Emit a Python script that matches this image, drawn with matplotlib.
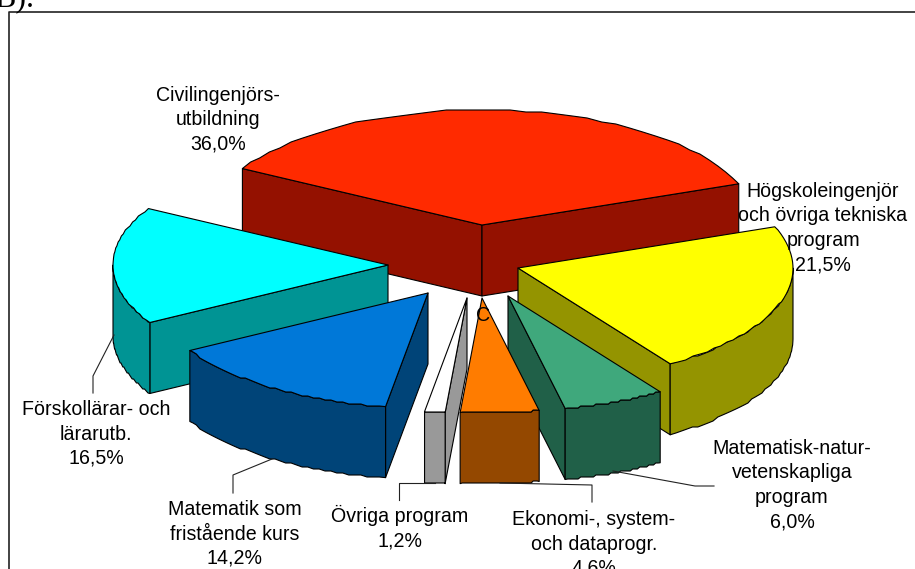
import numpy as np
import matplotlib
matplotlib.use("Agg")
import matplotlib.pyplot as plt
from matplotlib.patches import Polygon

plt.rcParams["font.family"] = ["Liberation Sans", "DejaVu Sans"]

program_names = ["Civilingenjörs-\nutbildning", "Högskoleingenjör\noch övriga tekniska\nprogram",
                 "Matematisk-natur-\nvetenskapliga\nprogram", "Ekonomi-, system-\noch dataprogr.",
                 "Övriga program", "Matematik som\nfristående kurs", "Förskollärar- och\nlärarutb."]
shares = [36.0, 21.5, 6.0, 4.6, 1.2, 14.2, 16.5]

top_colors = ["#ff2a00", "#ffff00", "#3fa87c", "#ff7c00", "#ffffff", "#0078d8", "#00ffff"]
side_colors = ["#941100", "#949400", "#206048", "#944800", "#999999", "#004478", "#009494"]

# pie geometry, in pixels
radius_x = 275
radius_y = 115
depth = 71
start_angle = 150.6
apex_x = [482, 518, 508, 482, 467, 428, 388]
apex_y = [225, 268, 296, 298, 298, 293, 265]
draw_order = [0, 6, 1, 5, 2, 4, 3]

label_x = [218, 823, 792, 594, 400, 235, 96]
label_y = [119.5, 228, 485, 544, 528, 534, 434]

leader_lines = [
    ([114, 93, 93], [335, 376, 393]),
    ([272, 233, 233], [459, 475, 493]),
    ([435, 399, 399], [483, 483, 500]),
    ([500, 592, 592], [483, 485, 502]),
    ([613, 695, 714], [471, 486, 486]),
]


def rim_points(cx, cy, angle_from, angle_to):
    # the original rim is a bit stair stepped, so snap the arc to a small grid
    angles = np.radians(np.linspace(angle_from, angle_to, 40))
    x = cx + radius_x * np.cos(angles)
    y = cy - radius_y * np.sin(angles)
    inner_x = x[1:-1]
    inner_y = np.round(y[1:-1] / 2) * 2
    return np.r_[x[0], inner_x, x[-1]], np.r_[y[0], inner_y, y[-1]]


def add_face(ax, x, y, color):
    ax.add_patch(Polygon(np.column_stack([x, y]), closed=True, facecolor=color,
                         edgecolor="black", linewidth=0.8, joinstyle="round"))


def add_radial_side(ax, cx, cy, angle, color):
    rim_x = cx + radius_x * np.cos(np.radians(angle))
    rim_y = cy - radius_y * np.sin(np.radians(angle))
    add_face(ax, [cx, rim_x, rim_x, cx], [cy, rim_y, rim_y + depth, cy + depth], color)


fig = plt.figure(figsize=(9.15, 5.69), dpi=100)
ax = fig.add_axes([0, 0, 1, 1])
ax.set_xlim(0, 915)
ax.set_ylim(569, 0)
ax.axis("off")

# chart frame, the right and bottom edges are outside of the picture
ax.plot([9, 9, 915], [569, 12, 12], color="#222222", linewidth=1.2)

ax.text(-6, -1, "B).", family="Liberation Serif", fontsize=23, ha="left", va="center")

angle_edges = start_angle - np.r_[0, np.cumsum(shares)] * 3.6

for i in draw_order:
    angle_start = angle_edges[i]
    angle_end = angle_edges[i + 1]
    cx, cy = apex_x[i], apex_y[i]

    # a cut side shows only if the slice lies above it on screen
    if np.cos(np.radians(angle_start)) < 0:
        add_radial_side(ax, cx, cy, angle_start, side_colors[i])
    if np.cos(np.radians(angle_end)) > 0:
        add_radial_side(ax, cx, cy, angle_end, side_colors[i])

    # front part of the rim, only the lower half of the ellipse
    rim_start = min(angle_start, 0)
    rim_end = max(angle_end, -180)
    if rim_start > rim_end:
        x, y = rim_points(cx, cy, rim_start, rim_end)
        add_face(ax, np.r_[x, x[::-1]], np.r_[y, y[::-1] + depth], side_colors[i])

    x, y = rim_points(cx, cy, angle_start, angle_end)
    add_face(ax, np.r_[cx, x], np.r_[cy, y], top_colors[i])

for line_x, line_y in leader_lines:
    ax.plot(line_x, line_y, color="#222222", linewidth=0.8)

for name, share, x, y in zip(program_names, shares, label_x, label_y):
    label = name + "\n" + f"{share:.1f}%".replace(".", ",")
    ax.text(x, y, label, fontsize=14.1, ha="center", va="center", linespacing=1.36, color="black")

ax.text(483, 315, "C", fontsize=14.1, ha="center", va="center", color="black")

fig.savefig("out.png", dpi=100)
